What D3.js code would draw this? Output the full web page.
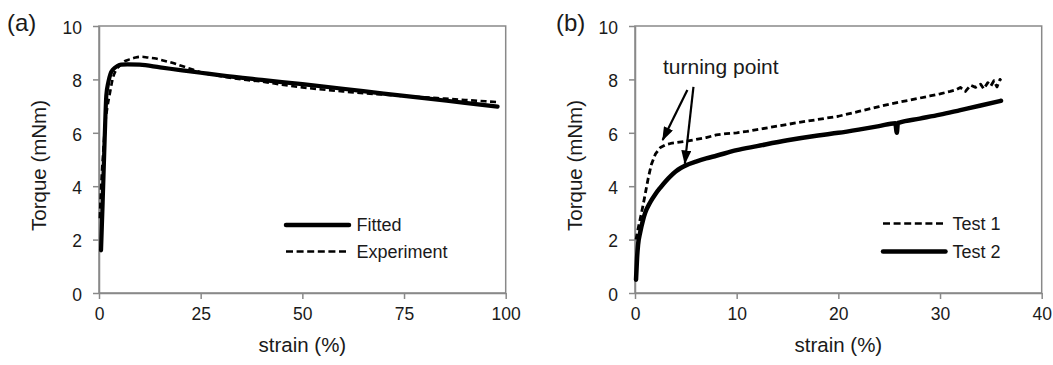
<!DOCTYPE html>
<html>
<head>
<meta charset="utf-8">
<script src="https://cdn.jsdelivr.net/npm/d3@7"></script>
<style>
  html, body { margin: 0; padding: 0; background: #fff; }
  svg { display: block; font-family: "Liberation Sans", Arial, sans-serif; }
</style>
</head>
<body>
<svg id="chart" width="1053" height="365"></svg>
<script>
// ---------- Data ----------
// Panel (a): strain (%) vs torque (mNm)
const fittedStrain = [0.5, 0.9, 1.4, 1.8, 2.3, 2.8, 3.5, 4.5, 5.5, 7, 10, 15, 20, 25, 30, 40, 50, 60, 70, 80, 90, 98];
const fittedTorque = [1.6, 3.4, 5.8, 7.4, 7.9, 8.2, 8.38, 8.5, 8.55, 8.56, 8.55, 8.45, 8.35, 8.25, 8.15, 7.98, 7.82, 7.65, 7.47, 7.3, 7.12, 6.98];

const experimentStrain = [0.2, 0.6, 1.0, 1.5, 2.0, 2.7, 3.5, 4.2, 5.0, 6.0, 7.5, 9, 10.5, 12, 14, 16, 18, 20, 22, 25, 30, 35, 40, 45, 50, 55, 60, 65, 70, 75, 80, 85, 90, 95, 98];
const experimentTorque = [2.8, 4.2, 5.2, 6.3, 6.9, 7.5, 8.1, 8.35, 8.5, 8.65, 8.75, 8.82, 8.85, 8.82, 8.78, 8.7, 8.62, 8.52, 8.42, 8.27, 8.12, 8.0, 7.92, 7.8, 7.7, 7.62, 7.55, 7.48, 7.43, 7.37, 7.33, 7.28, 7.23, 7.18, 7.15];

// Panel (b)
const test1Strain = [0.1, 0.3, 0.5, 0.8, 1.0, 1.3, 1.6, 2.0, 2.5, 3.0, 3.5, 4.0, 5.0, 6.0, 7.0, 8.0, 9.0, 10, 11, 12, 14, 16, 18, 20, 22, 24, 25, 26, 27, 28, 29, 30, 31, 31.5, 32, 32.5, 33, 33.5, 34, 34.3, 34.7, 35, 35.3, 35.6, 35.9, 36.0];
const test1Torque = [2.0, 2.4, 2.75, 3.3, 3.7, 4.3, 4.8, 5.2, 5.45, 5.55, 5.6, 5.63, 5.68, 5.75, 5.82, 5.92, 5.97, 6.0, 6.05, 6.12, 6.25, 6.38, 6.5, 6.62, 6.8, 6.98, 7.07, 7.15, 7.22, 7.3, 7.38, 7.46, 7.55, 7.6, 7.7, 7.55, 7.78, 7.7, 7.82, 7.65, 7.88, 7.75, 7.95, 7.72, 8.0, 7.95];

const test2Strain = [0.1, 0.2, 0.3, 0.5, 0.8, 1.0, 1.5, 2.0, 2.5, 3.0, 3.5, 4.0, 4.5, 5.0, 6.0, 7.0, 8.0, 10, 12, 15, 18, 20, 22, 24, 25.6, 25.75, 25.85, 26.0, 28, 30, 32, 34, 36];
const test2Torque = [0.5, 1.3, 1.8, 2.25, 2.75, 3.0, 3.4, 3.7, 3.95, 4.18, 4.38, 4.55, 4.68, 4.78, 4.92, 5.04, 5.14, 5.35, 5.5, 5.72, 5.9, 6.0, 6.12, 6.25, 6.36, 6.0, 6.36, 6.38, 6.53, 6.68, 6.85, 7.02, 7.2];

// Annotation arrows for "turning point" (strain %, torque mNm)
const arrowStart = [[5.15, 7.6], [5.75, 7.72]];
const arrowEnd   = [[2.72, 5.73], [4.9, 4.85]];

const yTicks = [0, 2, 4, 6, 8, 10];
const xTicksA = [0, 25, 50, 75, 100];
const xTicksB = [0, 10, 20, 30, 40];

// ---------- Drawing ----------
const svg = d3.select("#chart");
svg.append("rect").attr("width", 1053).attr("height", 365).attr("fill", "#fff");

const AXIS_COLOR = "#898989";
const TEXT_COLOR = "#1a1a1a";

const defs = svg.append("defs");
defs.append("marker")
  .attr("id", "arrowhead")
  .attr("viewBox", "0 0 14 10")
  .attr("refX", 13).attr("refY", 5)
  .attr("markerUnits", "userSpaceOnUse")
  .attr("markerWidth", 14).attr("markerHeight", 10)
  .attr("orient", "auto")
  .append("path").attr("d", "M0,0 L14,5 L0,10 Z").attr("fill", "#000");

function panel(opts) {
  const { left, right, top, bottom, xMax, xTicks, label, labelX } = opts;
  const x = d3.scaleLinear().domain([0, xMax]).range([left, right]);
  const y = d3.scaleLinear().domain([0, 10]).range([bottom, top]);
  const g = svg.append("g");

  g.append("rect")
    .attr("x", left).attr("y", top)
    .attr("width", right - left).attr("height", bottom - top)
    .attr("fill", "none").attr("stroke", AXIS_COLOR).attr("stroke-width", 1.5);

  const yAxis = g.append("g").attr("transform", `translate(${left},0)`)
    .call(d3.axisLeft(y).tickValues(yTicks).tickSize(6).tickSizeOuter(0).tickPadding(11));
  const xAxis = g.append("g").attr("transform", `translate(0,${bottom})`)
    .call(d3.axisBottom(x).tickValues(xTicks).tickSize(6).tickSizeOuter(0).tickPadding(9));
  [yAxis, xAxis].forEach(a => {
    a.select(".domain").attr("stroke", AXIS_COLOR).attr("stroke-width", 1.5);
    a.selectAll(".tick line").attr("stroke", AXIS_COLOR).attr("stroke-width", 1.5);
    a.selectAll(".tick text").attr("fill", TEXT_COLOR)
      .style("font-size", "17.5px").style("font-family", '"Liberation Sans", Arial, sans-serif');
  });
  yAxis.selectAll(".tick text").attr("dy", "0.42em");

  g.append("text")
    .attr("x", (left + right) / 2).attr("y", 352)
    .attr("text-anchor", "middle").attr("fill", TEXT_COLOR)
    .style("font-size", "20.5px").text("strain (%)");
  g.append("text")
    .attr("transform", `translate(${left - 53},${(top + bottom) / 2 + 6}) rotate(-90)`)
    .attr("text-anchor", "middle").attr("fill", TEXT_COLOR)
    .style("font-size", "20.5px").text("Torque (mNm)");

  g.append("text")
    .attr("x", labelX).attr("y", 31)
    .attr("fill", TEXT_COLOR).style("font-size", "24px").text(label);

  return { x, y, g };
}

const A = panel({ left: 99, right: 505.7, top: 26, bottom: 293, xMax: 100, xTicks: xTicksA, label: "(a)", labelX: 7 });
const B = panel({ left: 635, right: 1041.7, top: 26, bottom: 293, xMax: 40, xTicks: xTicksB, label: "(b)", labelX: 556 });

function drawLine(P, xs, ys, dashed, width, curve) {
  const pts = xs.map((v, i) => [v, ys[i]]);
  const line = d3.line().x(d => P.x(d[0])).y(d => P.y(d[1])).curve(curve || d3.curveMonotoneX);
  const p = P.g.append("path").datum(pts)
    .attr("d", line)
    .attr("fill", "none").attr("stroke", "#000")
    .attr("stroke-width", width)
    .attr("stroke-linejoin", "round");
  if (dashed) p.attr("stroke-dasharray", "6,3.5");
  else p.attr("stroke-linecap", "round");
  return p;
}

drawLine(A, experimentStrain, experimentTorque, true, 2.6);
drawLine(A, fittedStrain, fittedTorque, false, 4.2);

drawLine(B, test1Strain, test1Torque, true, 2.8, d3.curveLinear);
drawLine(B, test2Strain, test2Torque, false, 4.5);

function legend(P, items, x0, x1, tx) {
  items.forEach(it => {
    const l = P.g.append("line")
      .attr("x1", x0).attr("x2", x1).attr("y1", it.y).attr("y2", it.y)
      .attr("stroke", "#000").attr("stroke-width", it.dashed ? 2.6 : 4.5);
    if (it.dashed) l.attr("stroke-dasharray", "7,3.6");
    else l.attr("stroke-linecap", "round");
    P.g.append("text").attr("x", tx).attr("y", it.y).attr("dy", "0.36em")
      .attr("fill", TEXT_COLOR).style("font-size", "18px").text(it.name);
  });
}
legend(A, [{ name: "Fitted", y: 225, dashed: false }, { name: "Experiment", y: 251.5, dashed: true }], 286, 349, 356.5);
legend(B, [{ name: "Test 1", y: 223.5, dashed: true }, { name: "Test 2", y: 251.5, dashed: false }], 883, 945.5, 952.5);

B.g.append("text")
  .attr("x", 663).attr("y", 74)
  .attr("fill", TEXT_COLOR).style("font-size", "21px").text("turning point");
arrowStart.forEach((s, i) => {
  const e = arrowEnd[i];
  B.g.append("line")
    .attr("x1", B.x(s[0])).attr("y1", B.y(s[1]))
    .attr("x2", B.x(e[0])).attr("y2", B.y(e[1]))
    .attr("stroke", "#000").attr("stroke-width", 2.2)
    .attr("marker-end", "url(#arrowhead)");
});
</script>
</body>
</html>
